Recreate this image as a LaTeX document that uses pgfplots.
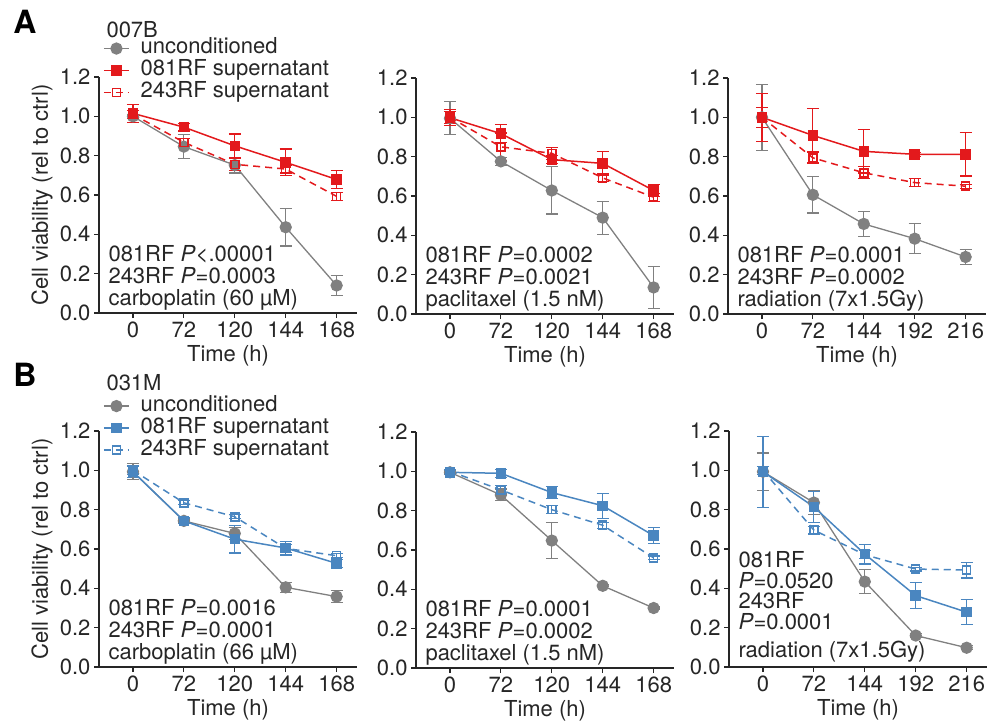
\documentclass[border=0pt]{standalone}
\usepackage{pgfplots}
\pgfplotsset{compat=1.18}
\usepackage{fontspec}
\setmainfont{TeX Gyre Heros}
\definecolor{cred}{HTML}{E3191C}
\definecolor{cblue}{HTML}{4A86C0}
\definecolor{cgray}{HTML}{808080}
\definecolor{ctext}{HTML}{262626}
\newcommand\fs{\fontsize{22bp}{22bp}\selectfont}
\pgfplotsset{
  panel/.style={scale only axis, width=258bp, height=236bp,
    xmin=-0.667, xmax=4.4, ymin=0, ymax=1.2, clip=false,
    axis x line*=bottom, axis y line*=left,
    axis line style={-, line width=1.2bp, ctext},
    xtick={0,1,2,3,4}, ytick={0,0.2,0.4,0.6,0.8,1.0,1.2},
    tick align=outside, major tick length=5bp,
    tick style={line width=1.2bp, ctext},
    yticklabel style={/pgf/number format/fixed, /pgf/number format/fixed zerofill, /pgf/number format/precision=1},
    ticklabel style={font=\fs, text=ctext},
    /pgf/number format/assume math mode=true,
    xlabel={Time (h)},
    xlabel style={at={(axis description cs:0.5,-0.182)}, anchor=center, font=\fs, text=ctext},
    error bars/y dir=both, error bars/y explicit,
    error bars/error bar style={line width=1.2bp, solid},
    error bars/error mark options={rotate=90, mark size=6bp, line width=1.2bp, solid},
    legend image code/.code={\draw[mark repeat=2, mark phase=2, #1] plot coordinates {(0bp,0bp) (12.5bp,0bp) (25bp,0bp)};},
    legend cell align=left,
  },
  firstcol/.style={ylabel={Cell viability (rel to ctrl)},
    ylabel style={at={(axis description cs:-0.221,0.5)}, anchor=center, font=\fs, text=ctext}},
  lg/.style={legend style={at={(axis description cs:0.0155,#1)}, anchor=north west, draw=none, fill=none,
    inner sep=0pt, row sep=0pt, column sep=11bp, font=\fs, text=ctext,
    nodes={inner sep=0pt, text height=16bp, text depth=6bp}}},
  s0/.style={cgray, line width=1.3bp, mark=*, mark size=5.5bp, mark options={solid, fill=cgray, draw=cgray}},
  s1/.style={#1, line width=1.5bp, mark=square*, mark size=4.5bp, mark options={solid, fill=#1}},
  s2/.style={#1, line width=1.5bp, dash pattern=on 7bp off 5bp, mark=square, mark size=4bp, mark options={solid, fill=white}},
}
\newcommand\ann[2]{\node[anchor=base west, font=\fs, text=ctext] at ([shift={(6bp,#1)}]axis description cs:0,0) {#2};}
\begin{document}
\begin{tikzpicture}
\useasboundingbox (0,0) rectangle (990bp,-727bp);
% ---------- A1 ----------
\begin{axis}[panel, firstcol, lg=1.168, at={(99bp,-313bp)}, anchor=south west,
  xticklabels={0,72,120,144,168}]
\addplot[s0] coordinates {(0,1.00) +- (0,0.01) (1,0.846) +- (0,0.06) (2,0.752) +- (0,0.04) (3,0.436) +- (0,0.095) (4,0.14) +- (0,0.05)};
\addplot[s1=cred] coordinates {(0,1.015) +- (0,0.045) (1,0.945) +- (0,0.02) (2,0.85) +- (0,0.06) (3,0.766) +- (0,0.068) (4,0.679) +- (0,0.047)};
\addplot[s2=cred] coordinates {(0,1.01) +- (0,0.02) (1,0.868) +- (0,0.02) (2,0.756) +- (0,0.03) (3,0.732) +- (0,0.02) (4,0.593) +- (0,0.02)};
\legend{unconditioned, 081RF supernatant, 243RF supernatant}
\ann{52bp}{081RF \textit{P}<.00001}
\ann{30bp}{243RF \textit{P}=0.0003}
\ann{8bp}{carboplatin (60 µM)}
\node[anchor=west, font=\fs, text=ctext] at ([shift={(4bp,283bp)}]axis description cs:0,0) {007B};
\node[font=\fontsize{32bp}{32bp}\selectfont\bfseries, text=black] at ([shift={(-74bp,291bp)}]axis description cs:0,0) {A};
\end{axis}
% ---------- A2 ----------
\begin{axis}[panel, at={(416bp,-314bp)}, anchor=south west,
  xticklabels={0,72,120,144,168}]
\addplot[s0] coordinates {(0,0.995) +- (0,0.084) (1,0.776) +- (0,0.02) (2,0.628) +- (0,0.12) (3,0.49) +- (0,0.084) (4,0.135) +- (0,0.107)};
\addplot[s1=cred] coordinates {(0,0.998) +- (0,0.04) (1,0.917) +- (0,0.045) (2,0.785) +- (0,0.02) (3,0.766) +- (0,0.06) (4,0.628) +- (0,0.03)};
\addplot[s2=cred] coordinates {(0,1.0) +- (0,0.03) (1,0.85) +- (0,0.07) (2,0.817) +- (0,0.03) (3,0.692) +- (0,0.02) (4,0.594) +- (0,0.02)};
\ann{52bp}{081RF \textit{P}=0.0002}
\ann{30bp}{243RF \textit{P}=0.0021}
\ann{8bp}{paclitaxel (1.5 nM)}
\end{axis}
% ---------- A3 ----------
\begin{axis}[panel, at={(728bp,-314bp)}, anchor=south west,
  xticklabels={0,72,144,192,216}]
\addplot[s0] coordinates {(0,1.0) +- (0,0.168) (1,0.606) +- (0,0.092) (2,0.458) +- (0,0.063) (3,0.383) +- (0,0.076) (4,0.29) +- (0,0.04)};
\addplot[s1=cred] coordinates {(0,1.0) +- (0,0.123) (1,0.908) +- (0,0.138) (2,0.827) +- (0,0.11) (3,0.812) +- (0,0.01) (4,0.812) +- (0,0.11)};
\addplot[s2=cred] coordinates {(0,1.0) +- (0,0.05) (1,0.794) +- (0,0.03) (2,0.718) +- (0,0.03) (3,0.668) +- (0,0.02) (4,0.65) +- (0,0.01)};
\ann{52bp}{081RF \textit{P}=0.0001}
\ann{30bp}{243RF \textit{P}=0.0002}
\ann{8bp}{radiation (7x1.5Gy)}
\end{axis}
% ---------- B1 ----------
\begin{axis}[panel, firstcol, lg=1.153, at={(99bp,-667bp)}, anchor=south west,
  xticklabels={0,72,120,144,168}]
\addplot[s0] coordinates {(0,0.993) +- (0,0.04) (1,0.743) +- (0,0.01) (2,0.679) +- (0,0.03) (3,0.405) +- (0,0.025) (4,0.358) +- (0,0.03)};
\addplot[s1=cblue] coordinates {(0,0.993) +- (0,0.03) (1,0.743) +- (0,0.015) (2,0.65) +- (0,0.07) (3,0.605) +- (0,0.035) (4,0.527) +- (0,0.02)};
\addplot[s2=cblue] coordinates {(0,1.0) +- (0,0.02) (1,0.835) +- (0,0.01) (2,0.764) +- (0,0.01) (3,0.603) +- (0,0.02) (4,0.566) +- (0,0.01)};
\legend{unconditioned, 081RF supernatant, 243RF supernatant}
\ann{52bp}{081RF \textit{P}=0.0016}
\ann{30bp}{243RF \textit{P}=0.0001}
\ann{8bp}{carboplatin (66 µM)}
\node[anchor=west, font=\fs, text=ctext] at ([shift={(4bp,284bp)}]axis description cs:0,0) {031M};
\node[font=\fontsize{32bp}{32bp}\selectfont\bfseries, text=black] at ([shift={(-74bp,292bp)}]axis description cs:0,0) {B};
\end{axis}
% ---------- B2 ----------
\begin{axis}[panel, at={(416bp,-668bp)}, anchor=south west,
  xticklabels={0,72,120,144,168}]
\addplot[s0] coordinates {(0,0.995) +- (0,0.01) (1,0.88) +- (0,0.03) (2,0.648) +- (0,0.09) (3,0.418) +- (0,0.005) (4,0.305) +- (0,0.005)};
\addplot[s1=cblue] coordinates {(0,0.995) +- (0,0.01) (1,0.99) +- (0,0.02) (2,0.892) +- (0,0.03) (3,0.825) +- (0,0.063) (4,0.673) +- (0,0.04)};
\addplot[s2=cblue] coordinates {(0,1.0) +- (0,0.01) (1,0.906) +- (0,0.02) (2,0.805) +- (0,0.02) (3,0.726) +- (0,0.015) (4,0.56) +- (0,0.01)};
\ann{52bp}{081RF \textit{P}=0.0001}
\ann{30bp}{243RF \textit{P}=0.0002}
\ann{8bp}{paclitaxel (1.5 nM)}
\end{axis}
% ---------- B3 ----------
\begin{axis}[panel, at={(729bp,-667bp)}, anchor=south west,
  xticklabels={0,72,144,192,216}]
\addplot[s0] coordinates {(0,0.993) +- (0,0.095) (1,0.836) +- (0,0.06) (2,0.434) +- (0,0.06) (3,0.16) +- (0,0.01) (4,0.098) +- (0,0.01)};
\addplot[s1=cblue] coordinates {(0,0.993) +- (0,0.18) (1,0.814) +- (0,0.08) (2,0.574) +- (0,0.05) (3,0.363) +- (0,0.066) (4,0.279) +- (0,0.063)};
\addplot[s2=cblue] coordinates {(0,1.0) +- (0,0.02) (1,0.696) +- (0,0.02) (2,0.571) +- (0,0.02) (3,0.498) +- (0,0.01) (4,0.493) +- (0,0.04)};
\ann{100bp}{081RF}
\ann{79bp}{\textit{P}=0.0520}
\ann{59bp}{243RF}
\ann{38bp}{\textit{P}=0.0001}
\ann{10bp}{radiation (7x1.5Gy)}
\end{axis}
\end{tikzpicture}
\end{document}
